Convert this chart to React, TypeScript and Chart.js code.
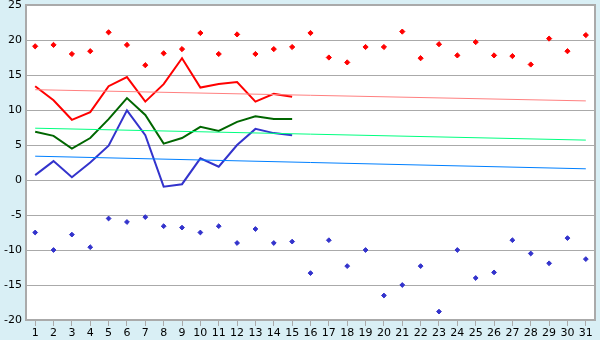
import { useEffect, useRef } from 'react';
import { Chart, registerables } from 'chart.js';
Chart.register(...registerables);

const days = ['1','2','3','4','5','6','7','8','9','10','11','12','13','14','15','16','17','18','19','20','21','22','23','24','25','26','27','28','29','30','31'];
const maxPoints = [19.1,19.3,18.0,18.4,21.1,19.3,16.4,18.1,18.7,21.0,18.0,20.8,18.0,18.7,19.0,21.0,17.5,16.8,19.0,19.0,21.2,17.4,19.4,17.8,19.7,17.8,17.7,16.5,20.2,18.4,20.7];
const minPoints = [-7.5,-10.0,-7.8,-9.6,-5.5,-6.0,-5.3,-6.6,-6.8,-7.5,-6.6,-9.0,-7.0,-9.0,-8.8,-13.3,-8.6,-12.3,-10.0,-16.5,-15.0,-12.3,-18.8,-10.0,-14.0,-13.2,-8.6,-10.5,-11.9,-8.3,-11.3];
const maxLine = [13.4,11.4,8.6,9.7,13.4,14.7,11.2,13.7,17.4,13.2,13.7,14.0,11.2,12.3,11.9];
const avgLine = [6.9,6.3,4.5,6.0,8.7,11.7,9.3,5.2,6.0,7.6,7.0,8.3,9.1,8.7,8.7];
const minLine = [0.7,2.7,0.4,2.5,4.9,9.95,6.4,-0.95,-0.6,3.1,1.9,5.0,7.3,6.7,6.4];
const maxTrend = [12.9, 11.3];
const avgTrend = [7.4, 5.7];
const minTrend = [3.4, 1.6];
const yMin = -20;
const yMax = 25;
const yStep = 5;

const trend = (vals: number[]) => [
  { x: days[0], y: vals[0] },
  { x: days[days.length - 1], y: vals[1] },
];

const areaPlugin = {
  id: 'areaBg',
  beforeDraw(chart: any) {
    const { ctx, chartArea } = chart;
    const { left, top, right, bottom } = chartArea;
    ctx.save();
    ctx.fillStyle = '#ffffff';
    ctx.fillRect(left, top, right - left, bottom - top);
    ctx.restore();
  },
  afterDatasetsDraw(chart: any) {
    const { ctx, chartArea } = chart;
    const { left, top, right, bottom } = chartArea;
    ctx.save();
    ctx.strokeStyle = '#aaaaaa';
    ctx.lineWidth = 2;
    ctx.beginPath();
    ctx.moveTo(left, top);
    ctx.lineTo(right, top);
    ctx.lineTo(right, bottom);
    ctx.stroke();
    ctx.restore();
  },
};

export default function App() {
  const ref = useRef<HTMLCanvasElement>(null);
  useEffect(() => {
    document.body.style.margin = '0';
    const chart = new Chart(ref.current!, {
      type: 'line',
      data: {
        labels: days,
        datasets: [
          { data: trend(maxTrend) as any, borderColor: '#ff8080', borderWidth: 1, pointRadius: 0 },
          { data: trend(avgTrend) as any, borderColor: '#00ff80', borderWidth: 1, pointRadius: 0 },
          { data: trend(minTrend) as any, borderColor: '#0080ff', borderWidth: 1, pointRadius: 0 },
          { data: maxLine, borderColor: '#ff0000', borderWidth: 2, pointRadius: 0 },
          { data: avgLine, borderColor: '#006600', borderWidth: 2, pointRadius: 0 },
          { data: minLine, borderColor: '#3333cc', borderWidth: 2, pointRadius: 0 },
          { data: maxPoints, showLine: false, pointStyle: 'rectRot', pointRadius: 2.6, pointBackgroundColor: '#ff0000', pointBorderColor: '#ff0000', pointBorderWidth: 1, borderColor: '#ff0000' },
          { data: minPoints, showLine: false, pointStyle: 'rectRot', pointRadius: 2.4, pointBackgroundColor: '#3333cc', pointBorderColor: '#3333cc', pointBorderWidth: 1, borderColor: '#3333cc' },
        ],
      },
      options: {
        animation: false,
        responsive: true,
        maintainAspectRatio: false,
        layout: { padding: { top: 5, right: 5, left: 0, bottom: 0 } },
        plugins: { legend: { display: false }, tooltip: { enabled: false } },
        elements: { line: { tension: 0 } },
        scales: {
          x: {
            type: 'category',
            offset: true,
            grid: { offset: false, drawOnChartArea: false, drawTicks: true, tickLength: 6, color: '#aaaaaa' },
            border: { color: '#aaaaaa', width: 2 },
            ticks: { color: '#000', font: { family: 'DejaVu Sans', size: 11 }, padding: 1, autoSkip: false, maxRotation: 0 },
            afterFit(scale: any) { scale.height = 20; scale.paddingLeft = 0; scale.paddingRight = 0; },
          },
          y: {
            min: yMin,
            max: yMax,
            ticks: { stepSize: yStep, color: '#000', font: { family: 'DejaVu Sans', size: 11 }, padding: 4 },
            grid: { color: '#aaaaaa', lineWidth: 1, tickLength: 0 },
            border: { color: '#aaaaaa', width: 2 },
            afterFit(scale: any) { scale.width = 26; scale.paddingTop = 0; scale.paddingBottom = 0; },
          },
        },
      },
      plugins: [areaPlugin],
    });
    return () => chart.destroy();
  }, []);
  return (
    <div style={{ position: 'fixed', left: 0, top: 0, width: 600, height: 340, background: '#d9eff5' }}>
      <canvas ref={ref} />
    </div>
  );
}
